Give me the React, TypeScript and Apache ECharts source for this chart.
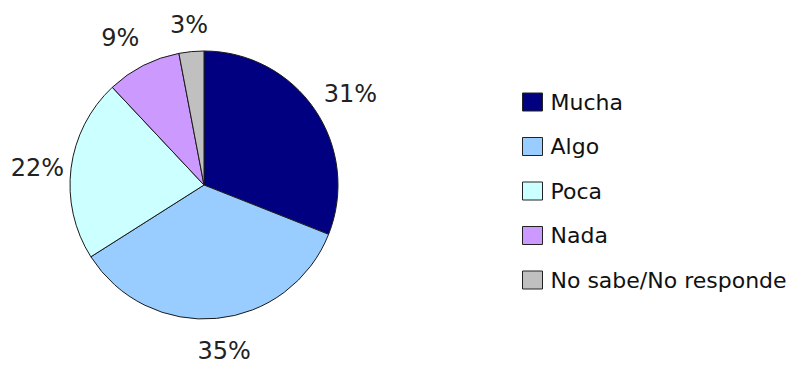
import React, { useEffect, useRef } from "react";
import * as echarts from "echarts";

const categories = ["Mucha", "Algo", "Poca", "Nada", "No sabe/No responde"];
const values = [31, 35, 22, 9, 3];
const colors = ["#000080", "#99CCFF", "#CCFFFF", "#CC99FF", "#C0C0C0"];
const labelOffsets: [number, number][] = [
  [5, 5],
  [4, -4],
  [3, 4],
  [-6, 5],
  [1, 10],
];

export default function App() {
  const ref = useRef<HTMLDivElement>(null);
  useEffect(() => {
    if (!ref.current) return;
    const chart = echarts.init(ref.current, null, { renderer: "svg" });
    const font = "DejaVu Sans";
    const data = categories.map((name, i) => ({
      name,
      value: values[i],
      itemStyle: { color: colors[i] },
    }));
    chart.setOption({
      animation: false,
      backgroundColor: "#ffffff",
      legend: {
        orient: "vertical",
        left: 517,
        top: 86,
        itemWidth: 20,
        itemHeight: 18,
        itemGap: 22.5,
        icon: "rect",
        data: categories,
        itemStyle: { borderColor: "#222", borderWidth: 1 },
        textStyle: {
          fontFamily: font,
          fontSize: 22,
          lineHeight: 22,
          color: "#111",
          padding: [0, 0, 0, 3],
        },
        selectedMode: false,
      },
      series: [
        {
          type: "pie",
          center: [204, 185],
          radius: 134,
          startAngle: 90,
          clockwise: true,
          silent: true,
          label: { show: false },
          labelLine: { show: false },
          itemStyle: { borderColor: "#1a1a1a", borderWidth: 1 },
          data,
        },
        {
          type: "pie",
          center: [204, 185],
          radius: [0, 336],
          startAngle: 90,
          clockwise: true,
          silent: true,
          itemStyle: { color: "rgba(0,0,0,0)", borderWidth: 0 },
          label: {
            show: true,
            position: "inside",
            formatter: "{c}%",
            fontFamily: font,
            fontSize: 24,
            lineHeight: 24,
            color: "#222",
          },
          labelLine: { show: false },
          data: categories.map((name, i) => ({
            name,
            value: values[i],
            label: { offset: labelOffsets[i] },
          })),
        },
      ],
    });
    return () => chart.dispose();
  }, []);
  return (
    <div
      ref={ref}
      style={{ position: "absolute", left: 0, top: 0, width: 794, height: 365 }}
    />
  );
}
